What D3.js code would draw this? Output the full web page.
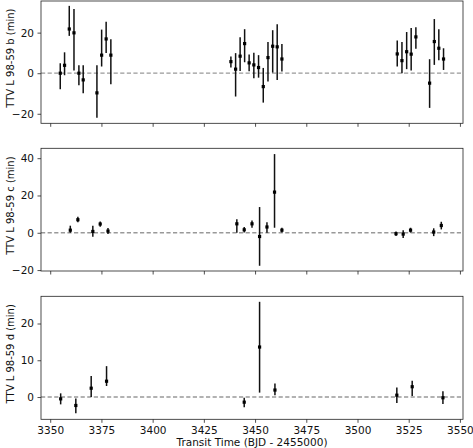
<!DOCTYPE html>
<html><head><meta charset="utf-8">
<script src="https://cdn.jsdelivr.net/npm/d3@7"></script>
<style>
html,body{margin:0;padding:0;background:#fff;}
svg{display:block;font-family:"DejaVu Sans",sans-serif;}
</style></head>
<body><svg id="c" width="473" height="448"></svg>
<script>
// ---- data ----
const xTicks = [3350,3375,3400,3425,3450,3475,3500,3525,3550];

const bTimes = [3354.9,3357.0,3359.3,3361.6,3364.0,3366.1,3372.8,3375.1,3377.3,3379.6,
  3438.2,3440.5,3442.7,3444.9,3447.1,3449.4,3451.7,3454.0,3456.3,3458.6,3460.8,3463.1,
  3519.4,3521.7,3524.0,3526.2,3528.5,3535.2,3537.5,3539.7,3542.0];
const bTTV = [0,3.9,21.8,19.9,0,-3.3,-9.7,8.9,16.9,8.9,
  5.7,2.0,8.4,14.6,5.1,4.1,2.8,-6.6,7.7,13.3,13.0,7.0,
  9.5,6.2,10.6,9.4,17.9,-4.9,15.6,12.3,7.0];
const bErrHi = [4.9,6.4,11.4,11.8,3.9,7.2,13.6,12.6,8.5,7.8,
  2.5,7.9,9.3,7.1,4.1,6.0,6.1,9.2,7.7,7.9,11.1,7.4,
  6.6,9.2,9.7,12.9,4.8,11.8,11.1,9.4,5.3];
const bErrLo = [7.9,4.9,3.4,18.6,5.9,6.6,12.3,5.6,7.0,14.3,
  2.9,13.5,7.3,9.2,4.1,6.6,5.0,7.9,11.8,13.0,16.3,6.2,
  6.2,6.2,8.6,8.1,5.9,12.2,11.5,5.9,5.4];
const bYTicks = [-20,0,20];

const cTimes = [3359.8,3363.5,3370.8,3374.4,3378.2,
  3441.1,3444.7,3448.5,3452.2,3455.8,3459.5,3463.1,
  3518.8,3522.3,3525.9,3537.2,3540.9];
const cTTV = [1.4,7.0,0.7,4.7,0.9, 4.8,1.6,4.8,-2.0,3.1,21.8,1.4, -0.5,-0.7,1.4,0.4,3.9];
const cErrHi = [2.4,1.6,3.1,1.4,1.6, 2.5,1.5,1.8,15.8,2.5,20.4,1.3, 1.2,2.0,1.3,2.0,2.0];
const cErrLo = [1.4,1.4,2.8,1.5,1.6, 4.8,1.4,2.1,15.7,3.1,19.1,1.2, 1.2,2.1,1.3,2.2,2.1];
const cYTicks = [-20,0,20,40];

const dTimes = [3355.1,3362.5,3370.0,3377.5, 3444.7,3452.2,3459.7, 3519.2,3526.7,3541.7];
const dTTV = [-0.5,-2.3,2.4,4.3, -1.4,13.6,1.9, 0.5,2.8,-0.2];
const dErrHi = [1.5,1.9,3.3,4.1, 1.2,12.3,1.8, 2.1,1.6,1.8];
const dErrLo = [1.5,2.1,2.4,1.3, 1.4,12.4,1.4, 2.1,2.5,1.7];
const dYTicks = [0,10,20];

const xLabel = "Transit Time (BJD - 2455000)";

// ---- layout ----
const FS = 10.5;
const svg = d3.select("#c");
const L = 41, R = 463;
const x = d3.scaleLinear().domain([3345.5, 3551.5]).range([L, R]);

const panels = [
  {label:"TTV L 98-59 b (min)", t:bTimes, y:bTTV, hi:bErrHi, lo:bErrLo, ticks:bYTicks, dom:[-24.7,35.6], top:1, bot:123.3},
  {label:"TTV L 98-59 c (min)", t:cTimes, y:cTTV, hi:cErrHi, lo:cErrLo, ticks:cYTicks, dom:[-20.5,45.3], top:148.3, bot:271},
  {label:"TTV L 98-59 d (min)", t:dTimes, y:dTTV, hi:dErrHi, lo:dErrLo, ticks:dYTicks, dom:[-6.06,27.4], top:296.3, bot:419.3}
];

panels.forEach((p, i) => {
  const y = d3.scaleLinear().domain(p.dom).range([p.bot, p.top]);
  const g = svg.append("g");

  g.append("line").attr("x1", L).attr("x2", R).attr("y1", y(0)).attr("y2", y(0))
    .attr("stroke", "#999").attr("stroke-width", 1.3).attr("stroke-dasharray", "4.2,2.4");

  const data = p.t.map((t, k) => ({t, v:p.y[k], hi:p.hi[k], lo:p.lo[k]}));
  g.selectAll("line.eb").data(data).enter().append("line").attr("class","eb")
    .attr("x1", d => x(d.t)).attr("x2", d => x(d.t))
    .attr("y1", d => y(d.v + d.hi)).attr("y2", d => y(d.v - d.lo))
    .attr("stroke", "#111").attr("stroke-width", 1.5);
  g.selectAll("rect.pt").data(data).enter().append("rect").attr("class","pt")
    .attr("x", d => x(d.t) - 1.6).attr("y", d => y(d.v) - 1.6)
    .attr("width", 3.2).attr("height", 3.2).attr("fill", "#000");

  const yAxis = d3.axisLeft(y).tickValues(p.ticks).tickSize(3.5).tickPadding(3.5)
    .tickFormat(d => d < 0 ? "\u2212" + Math.abs(d) : d);
  const ya = g.append("g").attr("transform", `translate(${L},0)`).call(yAxis);
  const xAxis = d3.axisBottom(x).tickValues(xTicks).tickSize(3.5).tickPadding(3.5)
    .tickFormat(i === 2 ? d3.format("d") : () => "");
  const xa = g.append("g").attr("transform", `translate(0,${p.bot})`).call(xAxis);
  [ya, xa].forEach(a => {
    a.select(".domain").remove();
    a.selectAll("line").attr("stroke", "#222").attr("stroke-width", 0.8);
    a.selectAll("text").attr("font-size", FS).attr("fill", "#111")
      .attr("font-family", "DejaVu Sans, sans-serif");
  });

  g.append("rect").attr("x", L).attr("y", p.top).attr("width", R - L).attr("height", p.bot - p.top)
    .attr("fill", "none").attr("stroke", "#222").attr("stroke-width", 0.8);

  g.append("text").attr("transform", `translate(13.5,${(p.top + p.bot) / 2 - 4}) rotate(-90)`)
    .attr("text-anchor", "middle").attr("font-size", 10).attr("fill", "#111").text(p.label);
});

svg.append("text").attr("x", (L + R) / 2).attr("y", 445.5).attr("text-anchor", "middle")
  .attr("font-size", FS).attr("fill", "#111").text(xLabel);
</script>
</body></html>
